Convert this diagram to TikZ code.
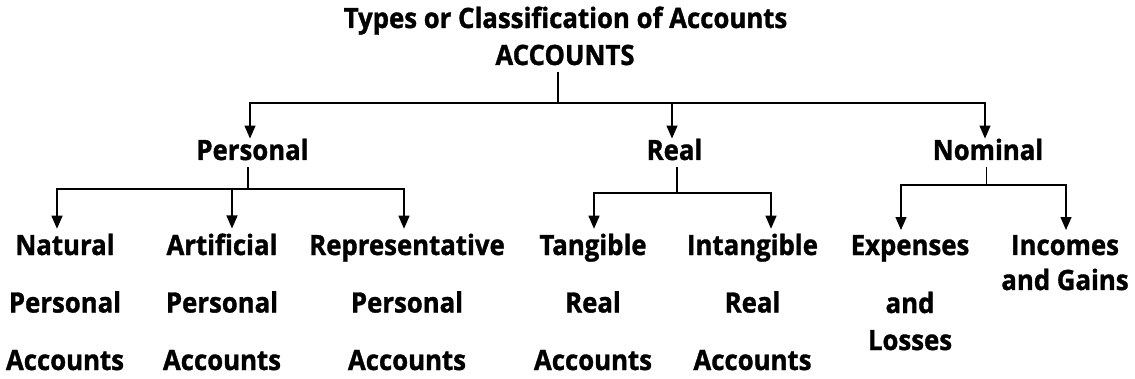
\documentclass[tikz,border=0pt]{standalone}
\usepackage{fontspec}
\setmainfont{Open Sans}[FakeStretch=0.92, BoldFeatures={FakeBold=1.2}]
\usetikzlibrary{arrows.meta}
\begin{document}
\begin{tikzpicture}[x=1pt,y=-1pt,
  lbl/.style={font=\bfseries\fontsize{28}{34}\selectfont, inner sep=0pt, anchor=base},
  midnode/.style={lbl, text depth=7pt},
  leaf/.style={lbl, align=center, outer ysep=5pt},
  wide/.style={font=\bfseries\fontsize{28}{57.5}\selectfont},
  link/.style={line width=1.3pt},
  arr/.style={link, -{Triangle[width=11pt,length=13pt]}}]
\useasboundingbox (0,0) rectangle (1135,379);
% texts
\node[lbl] (title) at (565.5,28) {Types or Classification of Accounts};
\node[midnode] (root) at (565,65) {ACCOUNTS};
\node[midnode] (pers) at (252.5,160) {Personal};
\node[midnode] (real) at (674.5,160) {Real};
\node[midnode] (nom) at (988,160) {Nominal};
\node[leaf, wide] (nat) at (65,370) {Natural\\Personal\\Accounts};
\node[leaf, wide] (art) at (222,370) {Artificial\\Personal\\Accounts};
\node[leaf, wide] (rep) at (407,370) {Representative\\Personal\\Accounts};
\node[leaf, wide] (tan) at (593,370) {Tangible\\Real\\Accounts};
\node[leaf, wide] (intan) at (752.5,370) {Intangible\\Real\\Accounts};
\node[leaf, font=\bfseries\fontsize{28}{37}\selectfont] (exp) at (910,350) {Expenses\\[21pt]and\\Losses};
\node[leaf, font=\bfseries\fontsize{28}{35}\selectfont] (inc) at (1065,290) {Incomes\\and Gains};
% junctions and arrow ends
\coordinate (jr) at (558,103);
\coordinate (jp) at (248,189);
\coordinate (jre) at (677,193);
\coordinate (jn) at (986.5,185);
\coordinate (realin) at ([xshift=-2.5pt]real.north);
\coordinate (artin) at (232,228.5);
\coordinate (artbus) at (232,189);
% level 1
\draw[link] ([xshift=-7pt]root.south) -- (jr);
\draw[arr] (jr) -| ([xshift=-2.5pt]pers.north);
\draw[arr] (jr) -| ([xshift=-3pt]nom.north);
\draw[arr] (jr -| realin) -- (realin);
% personal
\draw[link] ([xshift=-4.5pt]pers.south) -- (jp);
\draw[arr] (jp) -| ([xshift=-8pt]nat.north);
\draw[arr] (jp) -| ([xshift=-3pt]rep.north);
\draw[arr] (artbus) -- (artin);
% real
\draw[link] ([xshift=2.5pt]real.south) -- (jre);
\draw[arr] (jre) -| ([xshift=1pt]tan.north);
\draw[arr] (jre) -| ([xshift=18.5pt]intan.north);
% nominal
\draw[link] ([xshift=-1.5pt]nom.south) -- (jn);
\draw[arr] (jn) -| ([xshift=-9pt]exp.north);
\draw[arr] (jn) -| ([xshift=1pt]inc.north);
\end{tikzpicture}
\end{document}
